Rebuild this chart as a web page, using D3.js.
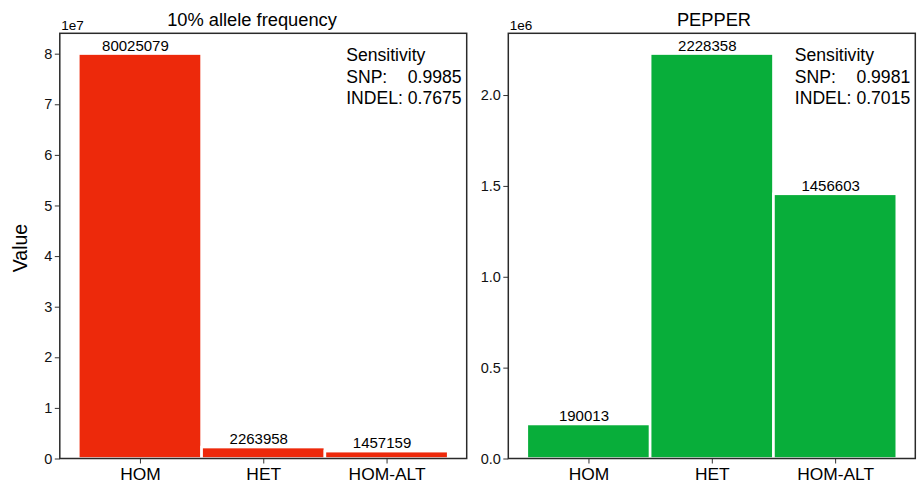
<!DOCTYPE html>
<html><head><meta charset="utf-8">
<script src="https://d3js.org/d3.v7.min.js"></script>
<style>body{margin:0;background:#fff}svg{display:block}text{font-family:"Liberation Sans",Arial,Helvetica,sans-serif}</style>
</head><body>
<svg id="c" width="919" height="485"></svg>
<script>
const categories = ["HOM", "HET", "HOM-ALT"];
const leftValues = [80025079, 2263958, 1457159];
const rightValues = [190013, 2228358, 1456603];
const titles = ["10% allele frequency", "PEPPER"];
const leftTicks = [0, 1e7, 2e7, 3e7, 4e7, 5e7, 6e7, 7e7, 8e7];
const leftTickLabels = ["0", "1", "2", "3", "4", "5", "6", "7", "8"];
const rightTicks = [0, 0.5e6, 1.0e6, 1.5e6, 2.0e6];
const rightTickLabels = ["0.0", "0.5", "1.0", "1.5", "2.0"];
const offsetLabels = ["1e7", "1e6"];
const snpSens = ["0.9985", "0.9981"];
const indelSens = ["0.7675", "0.7015"];
const colors = ["#ed290b", "#08ae3a"];

const svg = d3.select("#c");
const plotTop = 33.3, plotBottom = 458.5;
const panels = [
  {x0: 59.8, x1: 466.7, values: leftValues, ticks: leftTicks, labels: leftTickLabels, titleX: 252},
  {x0: 508.3, x1: 915.3, values: rightValues, ticks: rightTicks, labels: rightTickLabels, titleX: 714}
];
const ff = '"Liberation Sans",Arial,sans-serif';

panels.forEach((p, k) => {
  const g = svg.append("g");
  const x = d3.scaleLinear().domain([-0.65, 2.65]).range([p.x0, p.x1]);
  const y = d3.scaleLinear().domain([0, d3.max(p.values) * 1.05]).range([plotBottom, plotTop]);

  g.selectAll("rect.bar").data(p.values).join("rect").attr("class", "bar")
    .attr("x", (d, i) => x(i - 0.5)).attr("width", (d, i) => x(i + 0.5) - x(i - 0.5))
    .attr("y", d => y(d)).attr("height", d => y(0) - y(d))
    .attr("fill", colors[k]).attr("stroke", "#fff").attr("stroke-width", 2.6);

  g.selectAll("text.val").data(p.values).join("text").attr("class", "val")
    .attr("x", (d, i) => x(i) - 4.5).attr("y", d => y(d) - 3)
    .attr("text-anchor", "middle").attr("font-size", 15).attr("fill", "#000")
    .text(d => d);

  const ya = d3.axisLeft(y).tickValues(p.ticks).tickFormat((d, i) => p.labels[i]).tickSize(5).tickPadding(2.5);
  const yg = g.append("g").attr("transform", `translate(${p.x0},0)`).call(ya);
  yg.select(".domain").remove();
  yg.selectAll("line").attr("stroke", "#333").attr("stroke-width", 1);
  yg.selectAll("text").attr("font-size", 14.5).attr("fill", "#111").style("font-family", ff);

  const xa = d3.axisBottom(x).tickValues([0, 1, 2]).tickFormat((d, i) => categories[i]).tickSize(5).tickPadding(4);
  const xg = g.append("g").attr("transform", `translate(0,${plotBottom})`).call(xa);
  xg.select(".domain").remove();
  xg.selectAll("line").attr("stroke", "#333").attr("stroke-width", 1);
  xg.selectAll("text").attr("font-size", 17.4).attr("fill", "#000").style("font-family", ff);

  g.append("rect").attr("x", p.x0).attr("y", plotTop).attr("width", p.x1 - p.x0).attr("height", plotBottom - plotTop)
    .attr("fill", "none").attr("stroke", "#2a2a2a").attr("stroke-width", 1.5);

  g.append("text").attr("x", p.x0 + 1.5).attr("y", 29.5).attr("font-size", 13.5).attr("fill", "#000").text(offsetLabels[k]);

  g.append("text").attr("x", p.titleX).attr("y", 25.5).attr("text-anchor", "middle")
    .attr("font-size", 18.3).attr("fill", "#000").text(titles[k]);

  const sx = p.x1 - 120.5;
  const fs = 17.6;
  g.append("text").attr("x", sx).attr("y", 60.7).attr("font-size", fs).attr("fill", "#000").text("Sensitivity");
  const ind = g.append("text").attr("x", sx).attr("y", 104).attr("font-size", fs).attr("fill", "#000").text("INDEL: " + indelSens[k]);
  const w = ind.node().getComputedTextLength();
  g.append("text").attr("x", sx).attr("y", 82.5).attr("font-size", fs).attr("fill", "#000").text("SNP:");
  g.append("text").attr("x", sx + w).attr("y", 82.5).attr("text-anchor", "end").attr("font-size", fs).attr("fill", "#000").text(snpSens[k]);
});

svg.append("text").attr("transform", "translate(26.5,248) rotate(-90)").attr("text-anchor", "middle")
  .attr("font-size", 19.5).attr("fill", "#000").text("Value");
</script>
</body></html>
